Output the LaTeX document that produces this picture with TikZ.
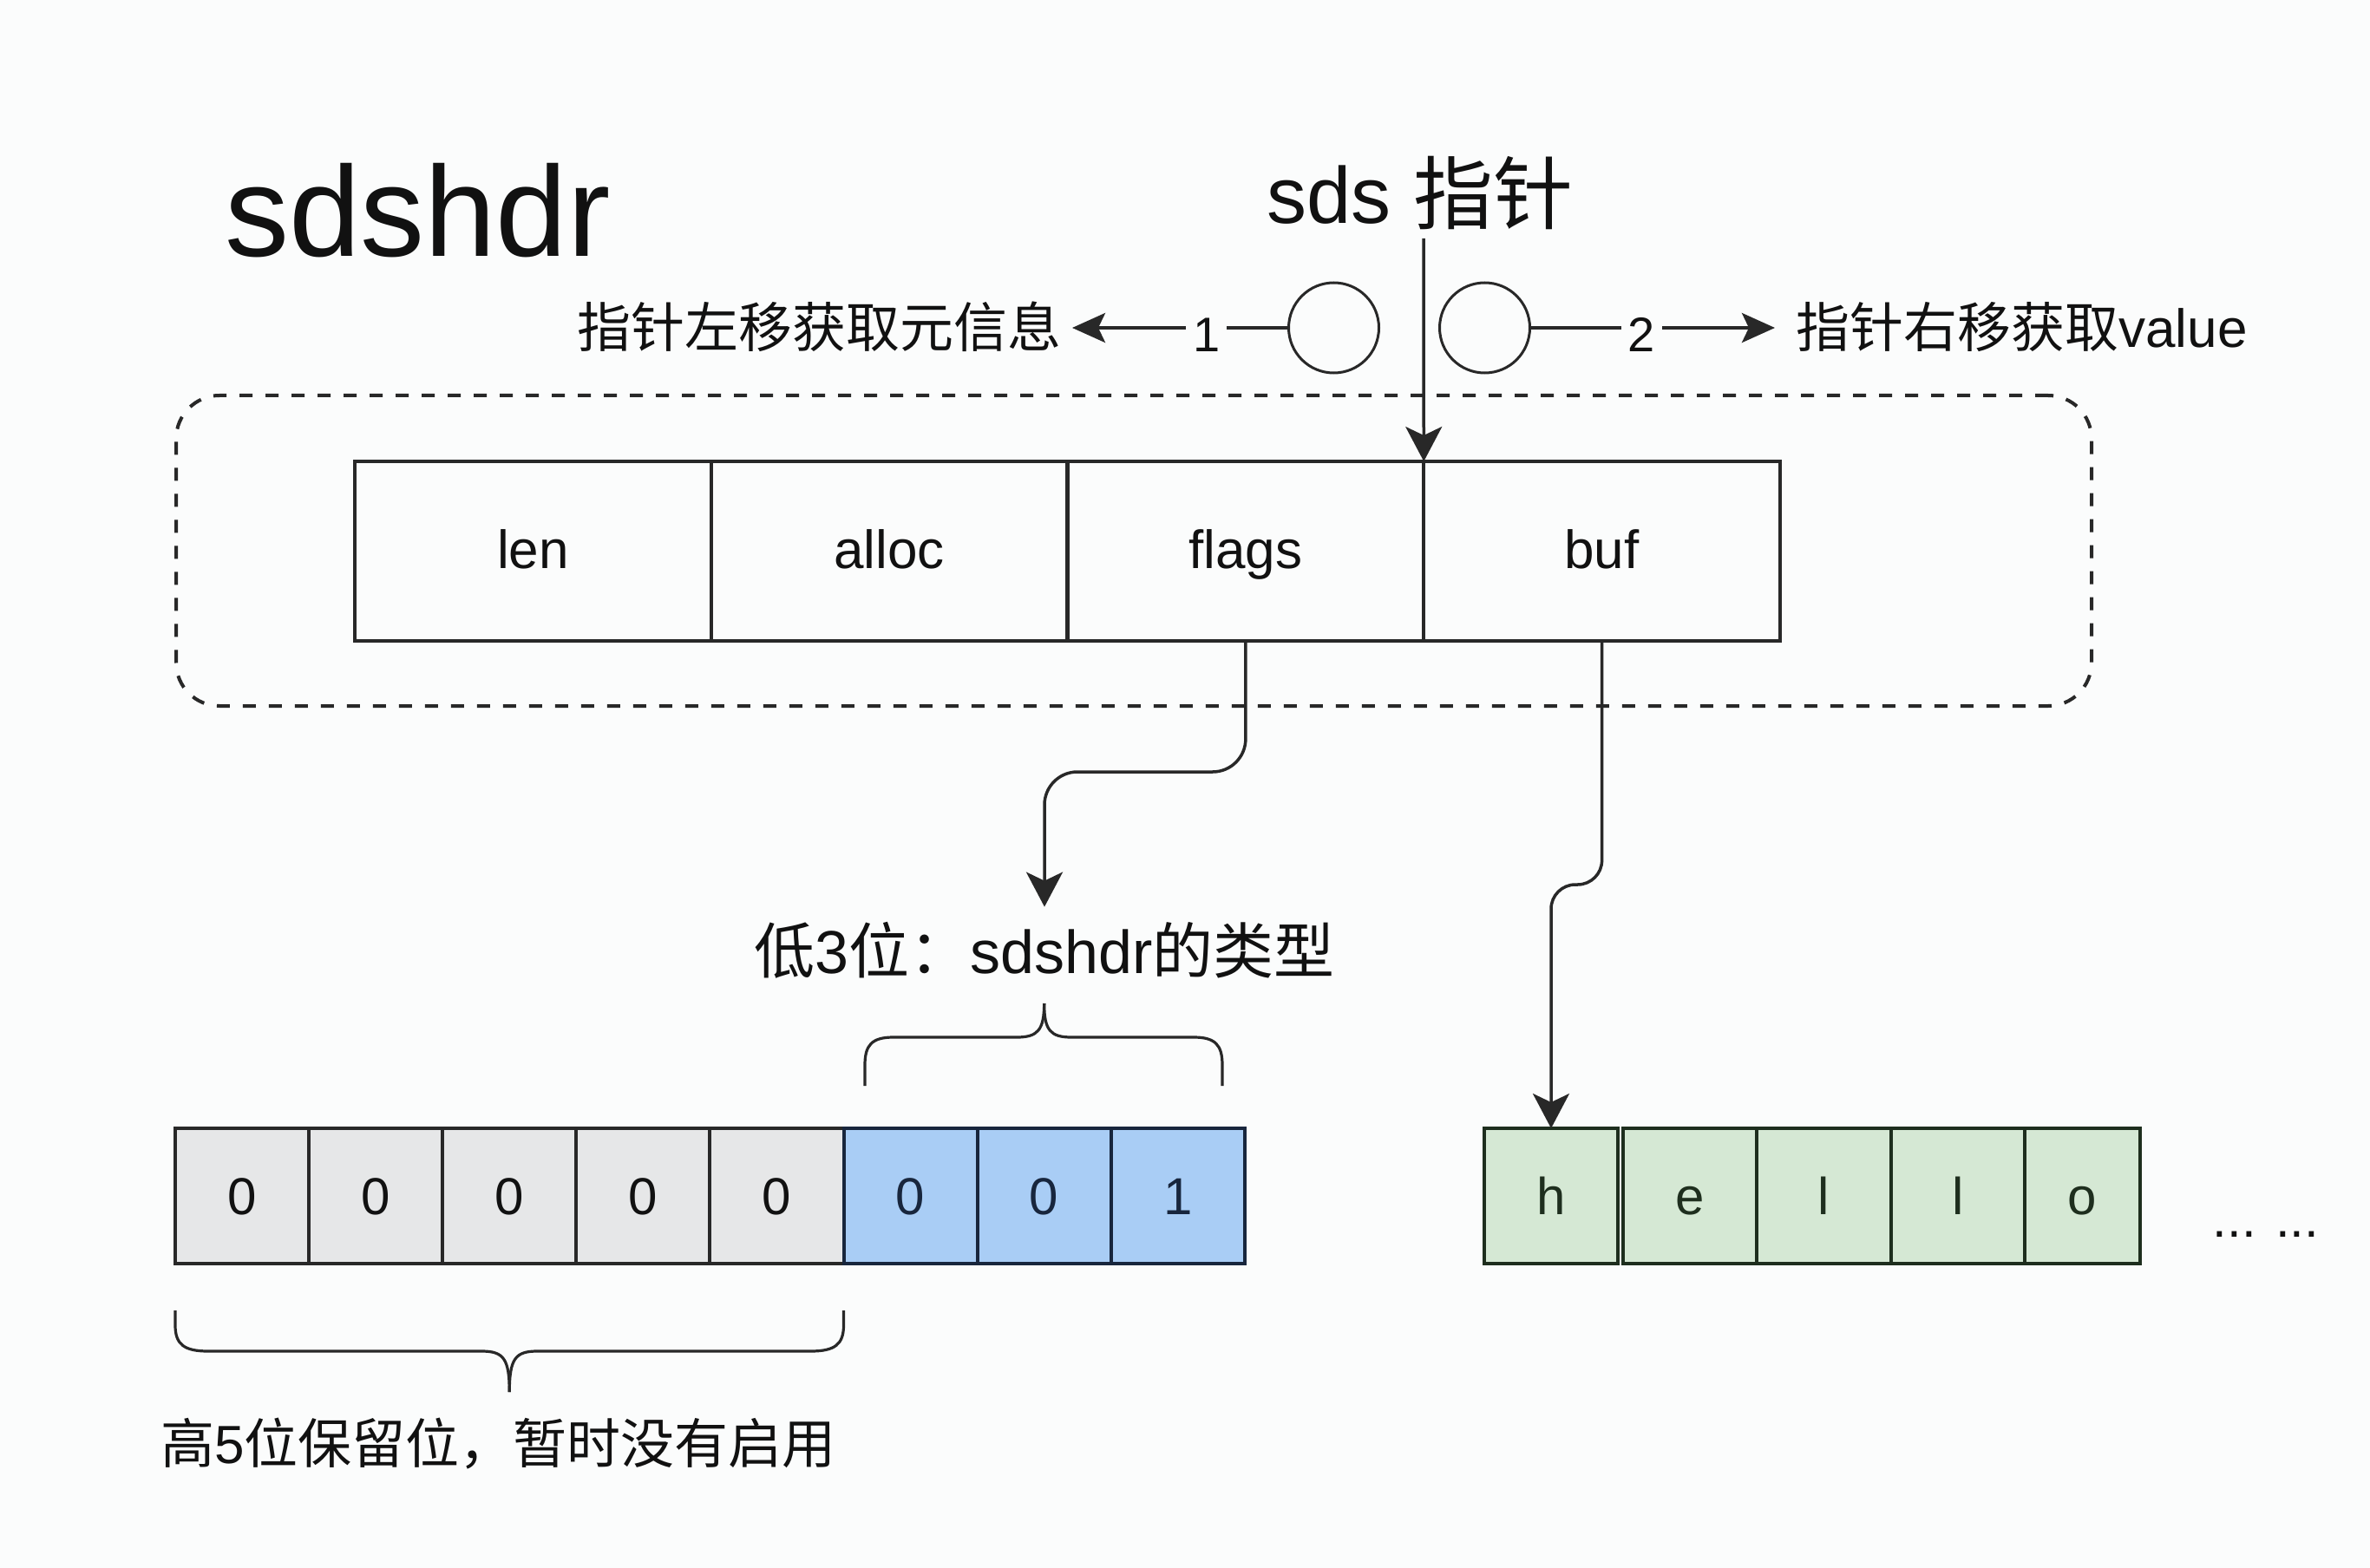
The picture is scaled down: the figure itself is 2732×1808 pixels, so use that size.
\documentclass[tikz,border=0pt]{standalone}
\usepackage{fontspec}
\setmainfont{Liberation Sans}
\newfontfamily\cjk{Noto Sans CJK SC}
\usetikzlibrary{arrows.meta}
\definecolor{bg}{RGB}{251,252,252}
\definecolor{linec}{RGB}{40,40,40}
\definecolor{txt}{RGB}{17,17,17}
\definecolor{grayfill}{RGB}{230,231,232}
\definecolor{bluefill}{RGB}{169,205,245}
\definecolor{blueline}{RGB}{24,38,61}
\definecolor{greenfill}{RGB}{213,232,212}
\definecolor{greenline}{RGB}{30,46,30}
\begin{document}
\begin{tikzpicture}[x=0.5pt,y=-0.5pt,
  field/.style={draw=linec, line width=2pt, minimum width=205.375pt, minimum height=103.5pt,
    inner sep=0pt, outer sep=0pt, text=txt, font=\fontsize{31}{31}\selectfont,
    text height=24.8pt, text depth=5.3pt},
  bitcell/.style={draw=linec, line width=2pt, minimum width=77.05pt, minimum height=78pt,
    inner sep=0pt, outer sep=0pt, text=txt, font=\fontsize{30}{30}\selectfont,
    text height=21.5pt, text depth=0pt},
  graybit/.style={bitcell, fill=grayfill},
  bluebit/.style={bitcell, fill=bluefill, draw=blueline, text=blueline},
  chr/.style={bitcell, fill=greenfill, draw=greenline, text=greenline},
  frame/.style={draw=linec, line width=2pt, dash pattern=on 7.5pt off 7.5pt,
    rounded corners=25pt, minimum width=1104pt, minimum height=179pt, inner sep=0pt},
  ring/.style={circle, draw=linec, line width=1.5pt, minimum size=52pt, inner sep=0pt, outer sep=0pt},
  conn/.style={draw=linec, line width=1.75pt, -{Stealth[length=20pt,width=21pt,inset=5pt]}},
  hconn/.style={draw=linec, line width=2pt, -{Stealth[length=19pt,width=17pt,inset=4pt]}},
  numlbl/.style={fill=bg, inner xsep=4pt, inner ysep=2pt, text=txt, font=\fontsize{28}{28}\selectfont, yshift=-4pt},
  brace/.style={draw=linec, line width=1.6pt},
  lbl/.style={text=txt, font=\fontsize{31}{31}\selectfont}
]
\useasboundingbox (0,0) rectangle (2732,1808);
\fill[bg] (0,0) rectangle (2732,1808);

% dashed container
\node[frame] (frame) at (1307,635) {};

% title
\node[anchor=base west, inner sep=0pt, text=txt, font=\fontsize{74}{74}\selectfont] (title) at (259,296) {sdshdr};

% sds pointer label
\node[anchor=base, inner sep=0pt, text=txt, font=\fontsize{46}{46}\selectfont] (sdsptr) at (1637,258) {sds {\cjk 指针}};

% record fields
\node[field] (len) at (614.4,635.5) {len};
\node[field] (alloc) at (1025.1,635.5) {alloc};
\node[field] (flags) at (1435.9,635.5) {flags};
\node[field] (buf) at (1846.6,635.5) {buf};

% pointer arrow
\coordinate (ptrtop) at (1641,275);
\draw[conn] (ptrtop) -- (flags.north east);

% circles
\node[ring] (c1) at (1537.5,378) {};
\node[ring] (c2) at (1711.5,378) {};

% side labels
\node[lbl, anchor=base east, inner xsep=6pt, inner ysep=0pt] (lefttxt) at (1236,401) {\cjk 指针左移获取元信息};
\node[lbl, anchor=base west, inner xsep=12pt, inner ysep=0pt] (righttxt) at (2046,401) {{\cjk 指针右移获取}value};

\draw[hconn] (c1.west) -- node[numlbl, pos=0.38] {1} (lefttxt.east |- c1.west);
\draw[hconn] (c2.east) -- node[numlbl, pos=0.456] {2} (righttxt.west |- c2.east);

% type label
\node[anchor=base, inner xsep=0pt, inner ysep=8pt, text=txt, font=\fontsize{35}{35}\selectfont,
  text height=30pt, text depth=0pt] (typelbl) at (1204,1122) {{\cjk 低}3{\cjk 位：}sdshdr{\cjk 的类型}};

\draw[conn, rounded corners=19pt] (flags.south) |- (1204,890) -- (typelbl.north);

% bits
\node[graybit] (b1) at (279.05,1379) {0};
\node[graybit] (b2) at (433.15,1379) {0};
\node[graybit] (b3) at (587.25,1379) {0};
\node[graybit] (b4) at (741.35,1379) {0};
\node[graybit] (b5) at (895.45,1379) {0};
\node[bluebit] (b6) at (1049.55,1379) {0};
\node[bluebit] (b7) at (1203.65,1379) {0};
\node[bluebit] (b8) at (1357.75,1379) {1};

% hello cells
\node[chr] (h) at (1788,1379) {h};
\node[chr] (e) at (1948,1379) {e};
\node[chr, minimum width=77.5pt] (l1) at (2102.5,1379) {l};
\node[chr] (l2) at (2257,1379) {l};
\node[chr, minimum width=66.5pt] (o) at (2400.5,1379) {o};

\node[anchor=base, inner sep=0pt, text=txt, font=\fontsize{30}{30}\selectfont] (dots) at (2612,1426) {... ...};

\draw[conn, rounded corners=14pt] (buf.south) |- (1788,1020) -- (h.north);

% top brace (low 3 bits)
\draw[brace] (997,1252) -- (997,1228) .. controls (997,1205) and (1005,1196) .. (1030,1196)
  -- (1172,1196) .. controls (1196,1196) and (1203.65,1188) .. (1203.65,1157);
\draw[brace] (1409,1252) -- (1409,1228) .. controls (1409,1205) and (1401,1196) .. (1376,1196)
  -- (1235,1196) .. controls (1211,1196) and (1203.65,1188) .. (1203.65,1157);

% bottom brace (high 5 bits)
\draw[brace] (202,1511) -- (202,1528) .. controls (202,1550) and (212,1558) .. (240,1558)
  -- (555,1558) .. controls (580,1558) and (587.25,1566) .. (587.25,1605);
\draw[brace] (972.5,1511) -- (972.5,1528) .. controls (972.5,1550) and (962.5,1558) .. (934.5,1558)
  -- (619.5,1558) .. controls (594.5,1558) and (587.25,1566) .. (587.25,1605);

\node[lbl, anchor=base west, inner sep=0pt] (reserved) at (185,1687) {{\cjk 高}5{\cjk 位保留位，暂时没有启用}};
\end{tikzpicture}
\end{document}
